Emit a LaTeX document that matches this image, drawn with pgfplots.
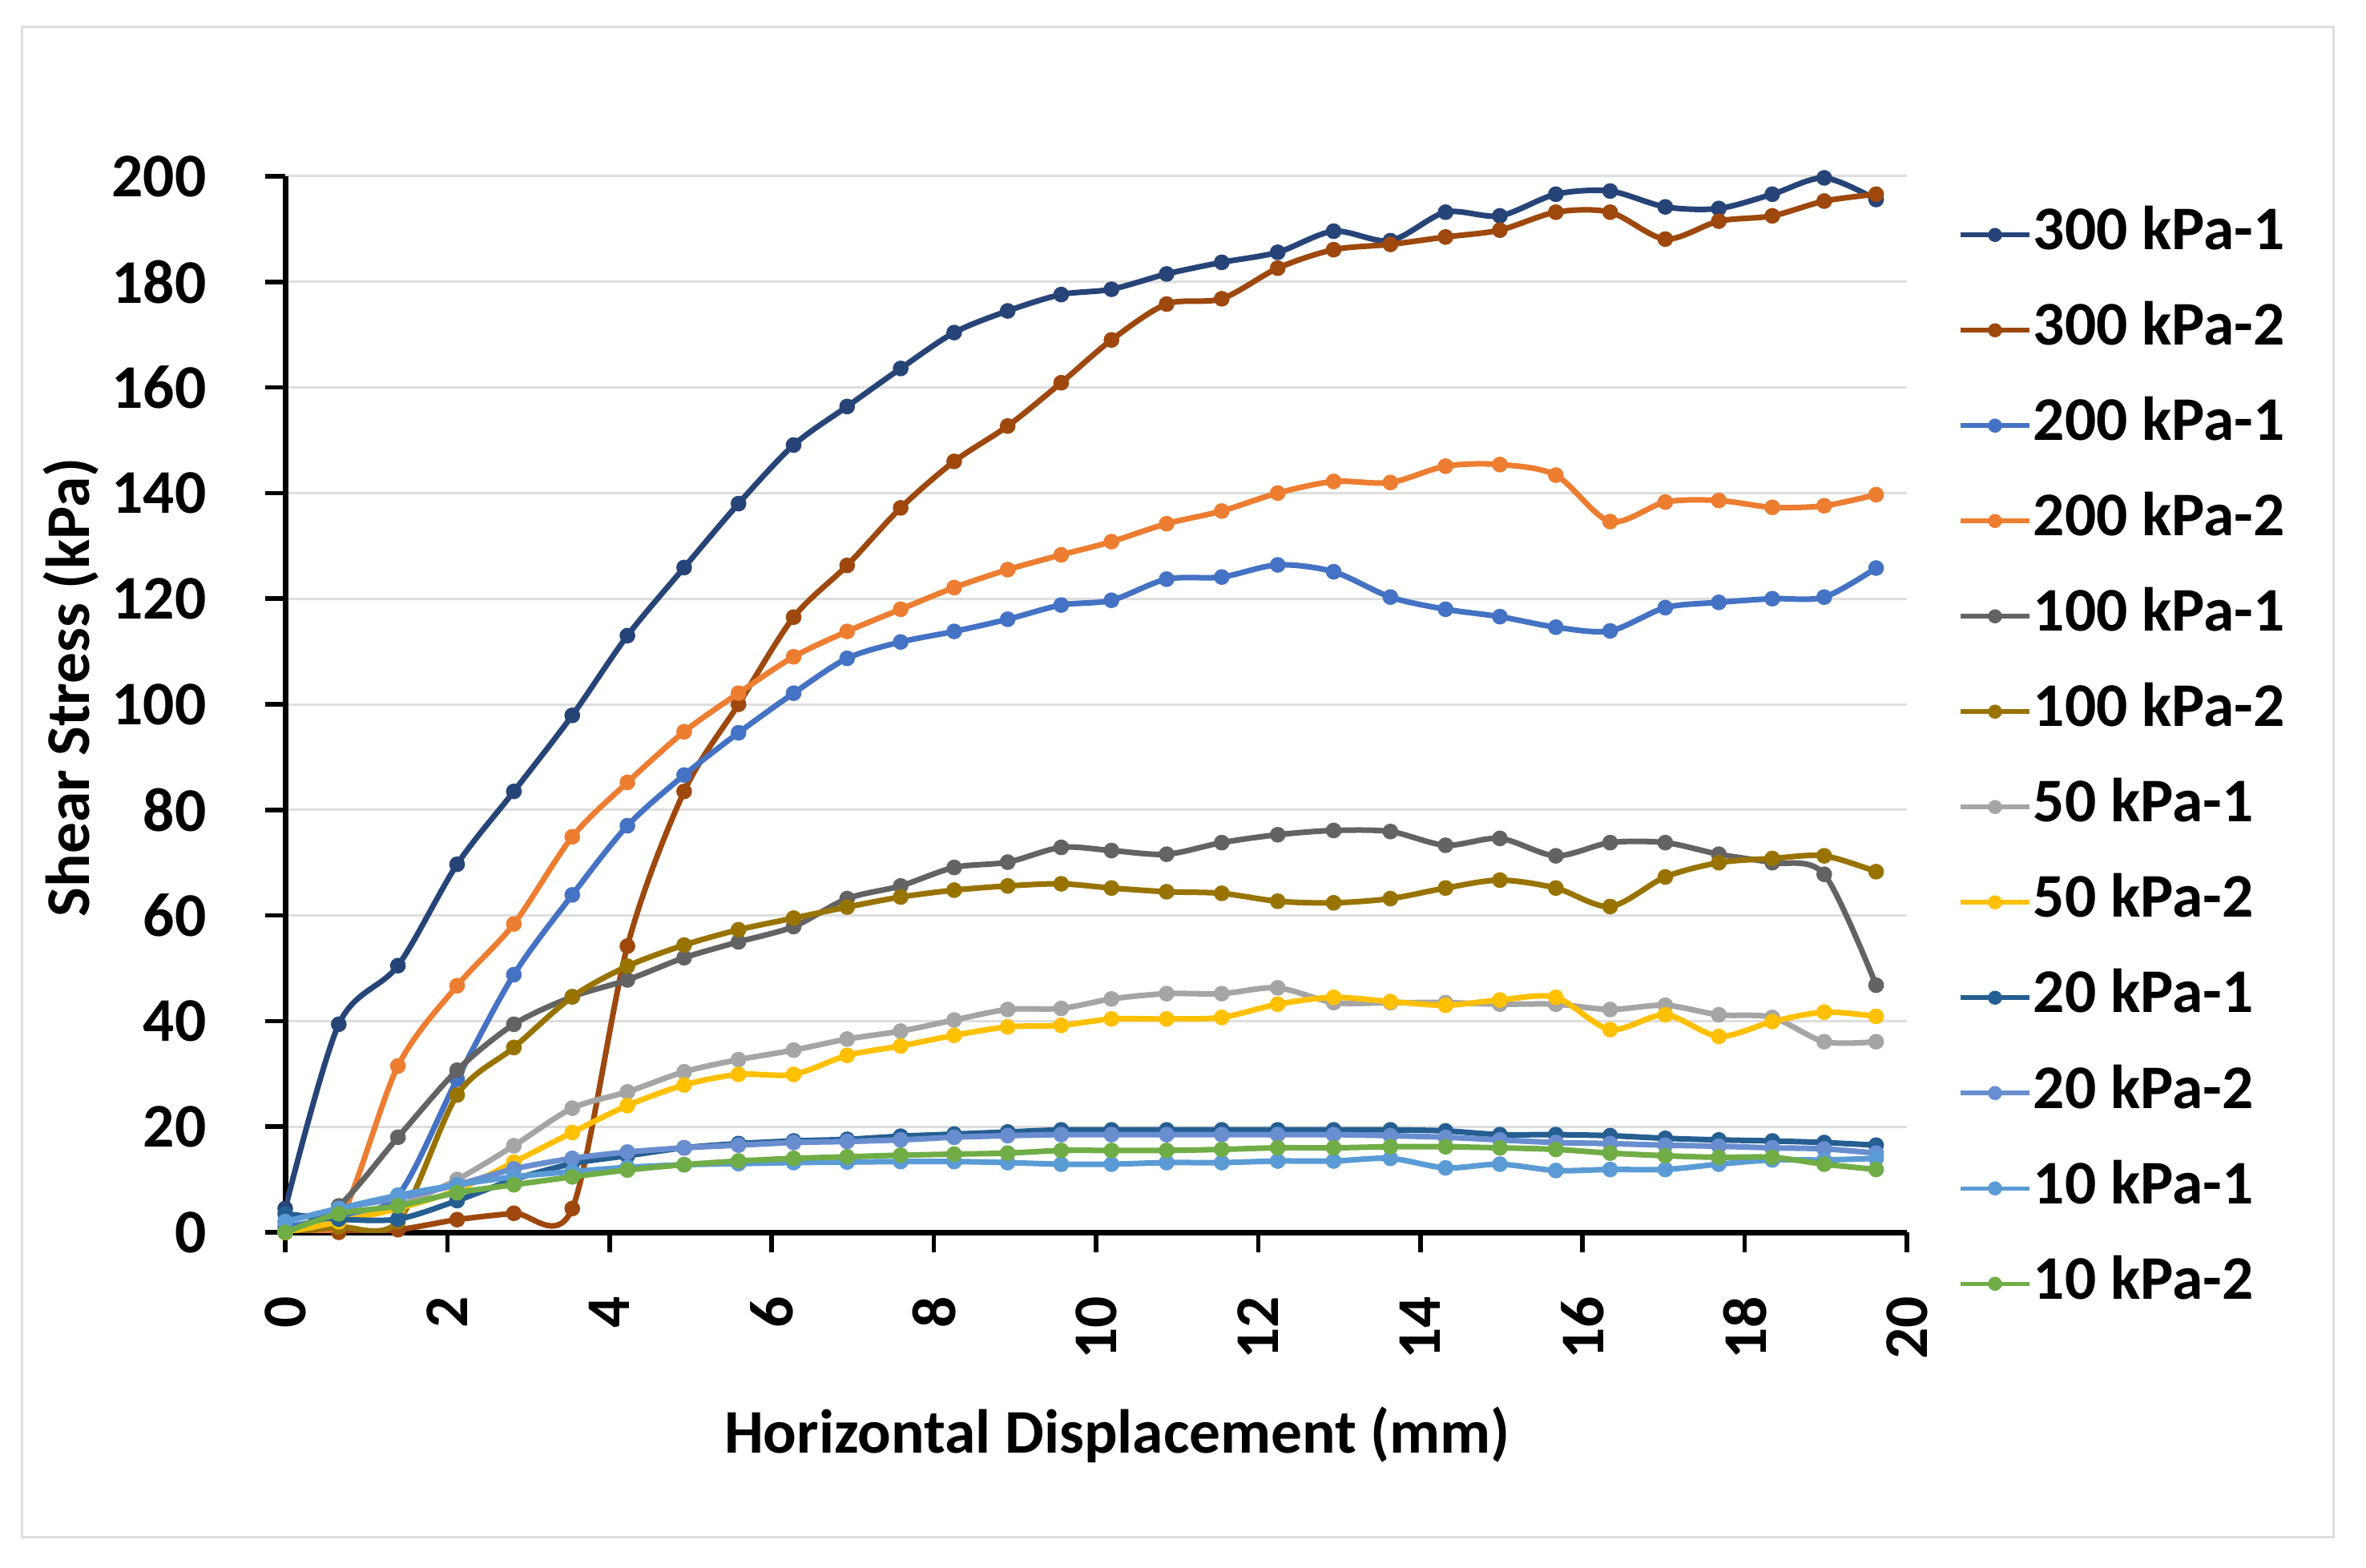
\documentclass[border=0pt]{standalone}
\usepackage{fontspec}
\setmainfont{Carlito}
\usepackage{pgfplots}
\usepackage{pgfplotstable}
\pgfplotsset{compat=1.18}
\definecolor{cA}{HTML}{264478}
\definecolor{cB}{HTML}{9E480E}
\definecolor{cC}{HTML}{4472C4}
\definecolor{cD}{HTML}{ED7D31}
\definecolor{cE}{HTML}{636363}
\definecolor{cF}{HTML}{997300}
\definecolor{cG}{HTML}{A5A5A5}
\definecolor{cH}{HTML}{FFC000}
\definecolor{cI}{HTML}{255E91}
\definecolor{cJ}{HTML}{698ED0}
\definecolor{cK}{HTML}{5B9BD5}
\definecolor{cL}{HTML}{70AD47}
\definecolor{gridc}{HTML}{DEDEDE}
\pgfplotstableread{
x s1 s2 s3 s4 s5 s6 s7 s8 s9 s10 s11 s12
0 4.5 0 1 0 0 0 0 0 3.5 2 2 0
0.66 39.4 0 3 2 5 1 2 2 2.5 4.5 4.5 3.5
1.39 50.5 0.5 7 31.5 18 2 5 4.5 2.5 6.5 7 5
2.12 69.7 2.4 29 46.7 30.7 26 10 8 6 9 9 7.5
2.82 83.5 3.6 48.8 58.4 39.4 35 16.4 13.3 10 12 10.5 9
3.54 97.9 4.5 63.9 74.9 44.6 44.6 23.5 18.9 13 14 11.5 10.5
4.22 113.0 54.2 77.0 85.2 47.8 50.4 26.6 24.0 14.5 15.2 12.3 11.8
4.92 125.9 83.5 86.6 94.8 52.0 54.4 30.4 27.9 16 16 12.8 12.8
5.59 138.0 100.0 94.6 102.1 55.0 57.3 32.7 29.9 16.8 16.5 13.0 13.5
6.27 149.1 116.5 102.1 109.0 57.9 59.5 34.5 29.9 17.3 17 13.2 14.0
6.93 156.4 126.3 108.7 113.8 63.2 61.6 36.6 33.5 17.6 17.2 13.3 14.3
7.59 163.6 137.2 111.8 118.0 65.6 63.5 38.1 35.3 18.2 17.5 13.4 14.6
8.25 170.4 146.0 113.8 122.1 69.1 64.8 40.2 37.3 18.6 18 13.4 14.8
8.91 174.5 152.7 116.1 125.5 70.1 65.6 42.2 38.9 19.0 18.3 13.2 15.0
9.57 177.6 160.9 118.8 128.3 72.9 66.0 42.4 39.2 19.4 18.5 12.9 15.5
10.19 178.6 169.0 119.7 130.8 72.3 65.2 44.2 40.4 19.4 18.5 12.9 15.5
10.87 181.5 175.8 123.7 134.2 71.6 64.5 45.2 40.4 19.4 18.5 13.2 15.5
11.55 183.7 176.8 124.1 136.6 73.8 64.2 45.2 40.7 19.4 18.5 13.2 15.7
12.24 185.6 182.6 126.4 140.0 75.3 62.7 46.3 43.2 19.4 18.5 13.5 16.0
12.93 189.6 186.1 125.1 142.2 76.1 62.4 43.5 44.5 19.4 18.5 13.5 16.0
13.63 187.8 187.1 120.3 142.0 75.9 63.2 43.5 43.7 19.4 18.3 14.0 16.2
14.31 193.2 188.5 118.0 145.1 73.3 65.2 43.5 43.0 19.2 18.0 12.2 16.2
14.98 192.5 189.8 116.6 145.4 74.6 66.7 43.2 44.0 18.5 17.5 12.9 16.0
15.67 196.6 193.2 114.6 143.4 71.3 65.2 43.2 44.5 18.5 17.0 11.7 15.7
16.34 197.2 193.2 113.9 134.6 73.8 61.7 42.2 38.4 18.3 16.8 11.9 15.0
17.02 194.2 188.1 118.3 138.3 73.8 67.3 43.0 41.2 17.8 16.5 11.9 14.5
17.68 193.9 191.5 119.3 138.6 71.6 70.0 41.2 37.1 17.5 16.3 12.9 14.2
18.34 196.6 192.5 120.0 137.3 70.0 70.8 40.7 39.9 17.3 16.0 13.7 14.2
18.98 199.7 195.3 120.3 137.6 67.8 71.3 36.1 41.7 17.0 15.8 13.7 12.9
19.62 195.6 196.6 125.8 139.7 46.8 68.3 36.1 40.9 16.5 15.0 14.0 11.9
}\data
\newcommand{\chartfont}{\fontsize{15.5pt}{18pt}\selectfont\bfseries}
\begin{document}
\begin{tikzpicture}
\path[use as bounding box] (0,0) rectangle (590.6pt,391.2pt);
\draw[color=gridc, line width=0.6pt] (5.4pt,7.6pt) rectangle (582.4pt,384.4pt);
\begin{axis}[
  at={(71.2pt,83.6pt)}, anchor=south west,
  scale only axis, width=404.8pt, height=263.6pt,
  xmin=0, xmax=20, ymin=0, ymax=200,
  xtick={0,2,...,20}, ytick={0,20,...,200},
  axis x line=bottom, axis y line=left,
  axis line style={-, line width=1.4pt, black},
  tick align=outside, major tick length=5pt,
  tick style={black, line width=1.1pt},
  ymajorgrids, grid style={gridc, line width=0.6pt},
  clip mode=individual,
  /pgf/number format/assume math mode=true,
  tick label style={font=\chartfont},
  xticklabel style={rotate=90, anchor=east, inner sep=0pt},
  yticklabel style={anchor=east, inner sep=0pt},
  xticklabel shift=10.8pt, yticklabel shift=14.5pt,
  xlabel={Horizontal Displacement (mm)},
  ylabel={Shear Stress (kPa)},
  label style={font=\chartfont},
  xlabel style={at={(axis description cs:0.5131,-0.192)}, anchor=center},
  ylabel style={at={(axis description cs:-0.1319,0.516)}, anchor=center},
  every axis plot/.append style={line width=1.4pt, smooth, tension=0.5, mark=*, mark size=1.25pt, mark options={solid}},
  legend cell align=left,
  legend style={at={(1.0314,0.9727)}, anchor=north west, draw=none, fill=none,
    inner sep=0pt, row sep=9.3pt, font=\chartfont,
    nodes={inner sep=0.5pt, text height=10.5pt, text depth=3pt}},
  legend image post style={line width=1.1pt, mark size=1.2pt},
]
\addplot[color=cA] table[x=x,y=s1]{\data};
\addlegendentry{300 kPa-1}
\addplot[color=cB] table[x=x,y=s2]{\data};
\addlegendentry{300 kPa-2}
\addplot[color=cC] table[x=x,y=s3]{\data};
\addlegendentry{200 kPa-1}
\addplot[color=cD] table[x=x,y=s4]{\data};
\addlegendentry{200 kPa-2}
\addplot[color=cE] table[x=x,y=s5]{\data};
\addlegendentry{100 kPa-1}
\addplot[color=cF] table[x=x,y=s6]{\data};
\addlegendentry{100 kPa-2}
\addplot[color=cG] table[x=x,y=s7]{\data};
\addlegendentry{50 kPa-1}
\addplot[color=cH] table[x=x,y=s8]{\data};
\addlegendentry{50 kPa-2}
\addplot[color=cI] table[x=x,y=s9]{\data};
\addlegendentry{20 kPa-1}
\addplot[color=cJ] table[x=x,y=s10]{\data};
\addlegendentry{20 kPa-2}
\addplot[color=cK] table[x=x,y=s11]{\data};
\addlegendentry{10 kPa-1}
\addplot[color=cL] table[x=x,y=s12]{\data};
\addlegendentry{10 kPa-2}
\end{axis}
\end{tikzpicture}
\end{document}
